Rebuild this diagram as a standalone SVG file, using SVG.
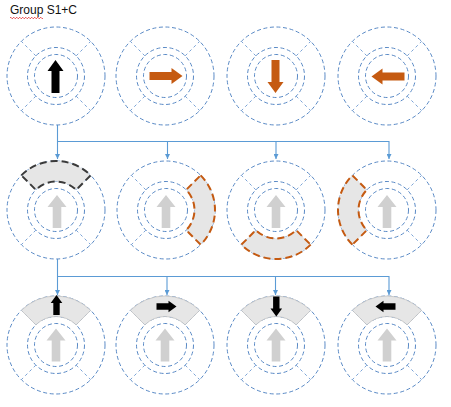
<svg xmlns="http://www.w3.org/2000/svg" xmlns:xlink="http://www.w3.org/1999/xlink" width="451" height="407" viewBox="0 0 451 407">
<style>
.hk{fill:#E6E6E6;stroke:#3A3A3A;stroke-width:2;stroke-dasharray:7 4}
.ho{fill:#E6E6E6;stroke:#C55A11;stroke-width:2;stroke-dasharray:7 4}
.hs{fill:#E6E6E6;stroke:#C3C3C3;stroke-width:0.8}
.con{fill:none;stroke:#5B9BD5;stroke-width:1.1}
.blk{fill:#000}
.org{fill:#C55A11}
.gry{fill:#D0D0D0}
.t{font-family:"Liberation Sans",Arial,sans-serif;font-size:12px;fill:#111}
</style>
<defs>
<g id="wheel" fill="none" stroke="#5A8AC6" stroke-width="1" stroke-dasharray="4 2.6">
<circle r="49"/>
<circle r="28.5"/>
<circle r="21.5"/>
<path stroke="#7BA3D6" stroke-dasharray="3 3" d="M-20.15,-20.15 L-34.65,-34.65 M20.15,-20.15 L34.65,-34.65 M20.15,20.15 L34.65,34.65 M-20.15,20.15 L-34.65,34.65"/>
</g>
<path id="sec" d="M-34.65,-34.65 A49,49 0 0 1 34.65,-34.65 L20.15,-20.15 A28.5,28.5 0 0 0 -20.15,-20.15 Z"/>
<path id="big" d="M0,-16.5 L8,-5.5 L4,-5.5 L4,16.5 L-4,16.5 L-4,-5.5 L-8,-5.5 Z"/>
<path id="ga" d="M0,-16.5 L9.5,-4.5 L4.3,-4.5 L4.3,16.5 L-4.3,16.5 L-4.3,-4.5 L-9.5,-4.5 Z"/>
<path id="sm" d="M0,-10 L5.8,-2 L3.2,-2 L3.2,10 L-3.2,10 L-3.2,-2 L-5.8,-2 Z"/>
<marker id="ah" viewBox="0 0 6 6" refX="6" refY="3" markerWidth="5" markerHeight="5" orient="auto" markerUnits="userSpaceOnUse"><path d="M0,0 L6,3 L0,6 Z" fill="#5B9BD5"/></marker>
</defs>

<g id="title">
<text class="t" x="10" y="14">Group S1+C</text>
<path d="M10,18 q0.75,-1.5 1.5,0 t1.5,0 t1.5,0 t1.5,0 t1.5,0 t1.5,0 t1.5,0 t1.5,0 t1.5,0 t1.5,0 t1.5,0 t1.5,0 t1.5,0 t1.5,0 t1.5,0 t1.5,0 t1.5,0 t1.5,0 t1.5,0 t1.5,0 t1.5,0 t1.5,0" fill="none" stroke="#E02020" stroke-width="0.8"/>
</g>

<g id="connectors">
<path class="con" d="M57.5,125 V159" marker-end="url(#ah)"/>
<path class="con" d="M57.5,141.5 H389 V159" marker-end="url(#ah)"/>
<path class="con" d="M167.5,141.5 V159" marker-end="url(#ah)"/>
<path class="con" d="M276,141.5 V159" marker-end="url(#ah)"/>
<path class="con" d="M57.5,259 V295" marker-end="url(#ah)"/>
<path class="con" d="M57.5,276.5 H389 V295" marker-end="url(#ah)"/>
<path class="con" d="M167,276.5 V295" marker-end="url(#ah)"/>
<path class="con" d="M275.5,276.5 V295" marker-end="url(#ah)"/>
</g>

<!-- Row 1 -->
<g id="n1" transform="translate(56,76)">
<use xlink:href="#wheel" href="#wheel"/>
<use xlink:href="#big" href="#big" class="blk" transform="translate(-0.5,0.5)"/>
</g>
<g id="n2" transform="translate(165,76)">
<use xlink:href="#wheel" href="#wheel"/>
<use xlink:href="#big" href="#big" class="org" transform="translate(1,0) rotate(90)"/>
</g>
<g id="n3" transform="translate(276,76)">
<use xlink:href="#wheel" href="#wheel"/>
<use xlink:href="#big" href="#big" class="org" transform="translate(-0.5,0.5) rotate(180)"/>
</g>
<g id="n4" transform="translate(387,76)">
<use xlink:href="#wheel" href="#wheel"/>
<use xlink:href="#big" href="#big" class="org" transform="translate(1,0.5) rotate(-90)"/>
</g>

<!-- Row 2 -->
<g id="n5" transform="translate(56,210)">
<use xlink:href="#wheel" href="#wheel"/>
<use xlink:href="#sec" href="#sec" class="hk"/>
<use xlink:href="#ga" href="#ga" class="gry" transform="translate(1,1.5)"/>
</g>
<g id="n6" transform="translate(166,210)">
<use xlink:href="#wheel" href="#wheel"/>
<use xlink:href="#sec" href="#sec" class="ho" transform="rotate(90)"/>
<use xlink:href="#ga" href="#ga" class="gry" transform="translate(0,1.5)"/>
</g>
<g id="n7" transform="translate(276,210)">
<use xlink:href="#wheel" href="#wheel"/>
<use xlink:href="#sec" href="#sec" class="ho" transform="rotate(180)"/>
<use xlink:href="#ga" href="#ga" class="gry" transform="translate(0,1.5)"/>
</g>
<g id="n8" transform="translate(387,210)">
<use xlink:href="#wheel" href="#wheel"/>
<use xlink:href="#sec" href="#sec" class="ho" transform="rotate(-90)"/>
<use xlink:href="#ga" href="#ga" class="gry" transform="translate(0,1.5)"/>
</g>

<!-- Row 3 -->
<g id="n9" transform="translate(56,345)">
<use xlink:href="#wheel" href="#wheel"/>
<use xlink:href="#sec" href="#sec" class="hs"/>
<use xlink:href="#ga" href="#ga" class="gry"/>
<use xlink:href="#sm" href="#sm" class="blk" transform="translate(0.5,-40)"/>
</g>
<g id="n10" transform="translate(165,345)">
<use xlink:href="#wheel" href="#wheel"/>
<use xlink:href="#sec" href="#sec" class="hs"/>
<use xlink:href="#ga" href="#ga" class="gry"/>
<use xlink:href="#sm" href="#sm" class="blk" transform="translate(1.5,-38.5) rotate(90)"/>
</g>
<g id="n11" transform="translate(276,345)">
<use xlink:href="#wheel" href="#wheel"/>
<use xlink:href="#sec" href="#sec" class="hs"/>
<use xlink:href="#ga" href="#ga" class="gry"/>
<use xlink:href="#sm" href="#sm" class="blk" transform="translate(0.3,-38.5) rotate(180)"/>
</g>
<g id="n12" transform="translate(387,345)">
<use xlink:href="#wheel" href="#wheel"/>
<use xlink:href="#sec" href="#sec" class="hs"/>
<use xlink:href="#ga" href="#ga" class="gry"/>
<use xlink:href="#sm" href="#sm" class="blk" transform="translate(-1.5,-38.5) rotate(-90)"/>
</g>
</svg>
